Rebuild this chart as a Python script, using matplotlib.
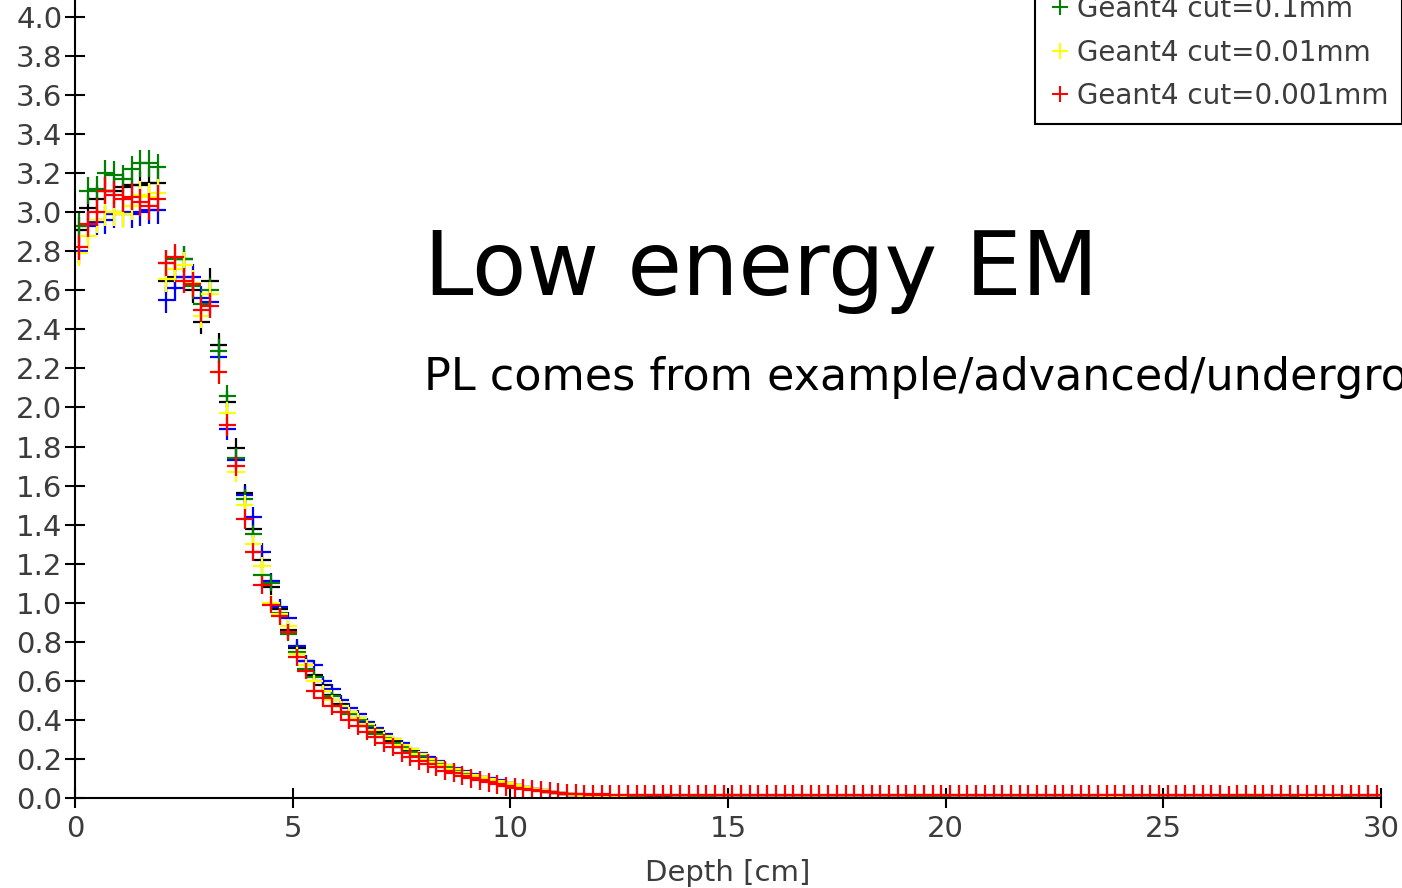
import numpy as np
import matplotlib.pyplot as plt
from matplotlib.lines import Line2D

# depth-dose histograms, 0.2 cm bins from 0 to 30 cm
bin_width = 0.2

dose_black = [
    2.91, 3.02, 3.07, 3.11, 3.11, 3.13, 3.14, 3.14, 3.15, 3.15,
    2.65, 2.67, 2.76, 2.60, 2.44, 2.65,
    2.32, 2.03, 1.79, 1.56, 1.38, 1.22, 1.08, 0.97, 0.86,
    0.77, 0.70, 0.63, 0.58, 0.53, 0.48, 0.44, 0.41, 0.37, 0.34,
    0.32, 0.29, 0.26, 0.24, 0.22, 0.20, 0.18, 0.165, 0.15, 0.135,
    0.12, 0.105, 0.095, 0.085, 0.075, 0.065, 0.055, 0.047, 0.04, 0.033,
    0.027, 0.02, 0.015, 0.01, 0.008,
    0.006, 0.005, 0.005, 0.004, 0.004, 0.003, 0.003, 0.003, 0.002, 0.002, 0.002, 0.002, 0.002, 0.002, 0.002,
    0.002, 0.001, 0.001, 0.001, 0.001, 0.001, 0.001, 0.001, 0.001, 0.001, 0.001, 0.001, 0.001, 0.001, 0.001,
    0.001, 0.001, 0.001, 0.001, 0.001, 0.001, 0.001, 0.001, 0.001, 0.001, 0.001, 0.001, 0.001, 0.001, 0.001,
    0.001, 0.001, 0.001, 0.001, 0.001, 0.001, 0.001, 0.001, 0.001, 0.001, 0.001, 0.001, 0.001, 0.001, 0.001,
    0.001, 0.001, 0.001, 0.001, 0.001, 0.001, 0.001, 0.001, 0.001, 0.001, 0.001, 0.001, 0.001, 0.001, 0.001,
    0.001, 0.001, 0.001, 0.001, 0.001, 0.001, 0.001, 0.001, 0.001, 0.001, 0.001, 0.001, 0.001, 0.001, 0.001,
]

dose_blue = [
    2.80, 2.93, 2.95, 2.96, 2.99, 3.00, 2.99, 3.00, 3.01, 3.01,
    2.55, 2.61, 2.67, 2.67, 2.56, 2.54,
    2.26, 1.89, 1.73, 1.55, 1.44, 1.26, 1.11, 0.98, 0.92,
    0.78, 0.70, 0.68, 0.60, 0.56, 0.50, 0.46, 0.43, 0.39, 0.36,
    0.33, 0.30, 0.28, 0.25, 0.23, 0.21, 0.19, 0.17, 0.155, 0.14,
    0.125, 0.11, 0.10, 0.09, 0.075, 0.065, 0.055, 0.047, 0.04, 0.033,
    0.027, 0.02, 0.015, 0.01, 0.007,
    0.005, 0.004, 0.004, 0.003, 0.003, 0.002, 0.002, 0.002, 0.002, 0.001, 0.001, 0.001, 0.001, 0.001, 0.001,
    0.001, 0.001, 0.001, 0.001, 0.001, 0.001, 0.001, 0.001, 0.001, 0.001, 0.001, 0.001, 0.001, 0.001, 0.001,
    0.001, 0.001, 0.001, 0.001, 0.001, 0.001, 0.001, 0.001, 0.001, 0.001, 0.001, 0.001, 0.001, 0.001, 0.001,
    0.001, 0.001, 0.001, 0.001, 0.001, 0.001, 0.001, 0.001, 0.001, 0.001, 0.001, 0.001, 0.001, 0.001, 0.001,
    0.001, 0.001, 0.001, 0.001, 0.001, 0.001, 0.001, 0.001, 0.001, 0.001, 0.001, 0.001, 0.001, 0.001, 0.001,
    0.001, 0.001, 0.001, 0.001, 0.001, 0.001, 0.001, 0.001, 0.001, 0.001, 0.001, 0.001, 0.001, 0.001, 0.001,
]

dose_green = [
    2.93, 3.11, 3.12, 3.20, 3.19, 3.17, 3.22, 3.25, 3.25, 3.23,
    2.74, 2.76, 2.76, 2.62, 2.53, 2.60,
    2.29, 2.06, 1.74, 1.53, 1.35, 1.14, 1.10, 0.95, 0.84,
    0.75, 0.66, 0.62, 0.55, 0.52, 0.47, 0.43, 0.40, 0.37, 0.33,
    0.31, 0.28, 0.26, 0.235, 0.215, 0.195, 0.175, 0.16, 0.145, 0.13,
    0.115, 0.10, 0.09, 0.08, 0.07, 0.06, 0.05, 0.045, 0.038, 0.03,
    0.025, 0.02, 0.015, 0.012, 0.01,
    0.012, 0.012, 0.011, 0.012, 0.010, 0.0, 0.0, 0.0, 0.0, 0.0, 0.0, 0.012, 0.012, 0.0, 0.0,
    0.0, 0.0, 0.0, 0.0, 0.0, 0.0, 0.0, 0.0, 0.0, 0.0, 0.0, 0.0, 0.0, 0.0, 0.0,
    0.0, 0.0, 0.0, 0.0, 0.0, 0.0, 0.012, 0.012, 0.012, 0.012, 0.0, 0.0, 0.0, 0.0, 0.0,
    0.0, 0.0, 0.0, 0.0, 0.0, 0.0, 0.0, 0.0, 0.0, 0.0, 0.0, 0.0, 0.0, 0.0, 0.0,
    0.0, 0.0, 0.0, 0.0, 0.0, 0.0, 0.0, 0.0, 0.0, 0.0, 0.0, 0.0, 0.012, 0.012, 0.012,
    0.012, 0.0, 0.0, 0.0, 0.0, 0.012, 0.0, 0.0, 0.0, 0.0, 0.012, 0.0, 0.0, 0.0, 0.0,
]

dose_yellow = [
    2.79, 2.88, 2.96, 3.00, 3.00, 2.99, 3.03, 3.09, 3.08, 3.10,
    2.66, 2.71, 2.73, 2.64, 2.47, 2.58,
    2.18, 1.97, 1.67, 1.50, 1.30, 1.19, 1.00, 0.94, 0.88,
    0.74, 0.68, 0.60, 0.55, 0.50, 0.47, 0.44, 0.41, 0.38, 0.35,
    0.32, 0.30, 0.27, 0.25, 0.225, 0.20, 0.185, 0.17, 0.15, 0.135,
    0.12, 0.11, 0.095, 0.085, 0.075, 0.065, 0.055, 0.045, 0.04, 0.033,
    0.026, 0.02, 0.015, 0.012, 0.01,
    0.004, 0.003, 0.003, 0.002, 0.002, 0.002, 0.0, 0.0, 0.0, 0.0, 0.0, 0.0, 0.0, 0.0, 0.015,
    0.015, 0.015, 0.0, 0.0, 0.0, 0.0, 0.0, 0.0, 0.0, 0.0, 0.0, 0.0, 0.0, 0.0, 0.0,
    0.0, 0.0, 0.0, 0.015, 0.0, 0.0, 0.0, 0.0, 0.0, 0.0, 0.0, 0.0, 0.0, 0.0, 0.0,
    0.0, 0.0, 0.0, 0.0, 0.0, 0.0, 0.0, 0.0, 0.0, 0.0, 0.0, 0.0, 0.0, 0.012, 0.012,
    0.0, 0.0, 0.0, 0.0, 0.0, 0.0, 0.0, 0.0, 0.0, 0.0, 0.0, 0.0, 0.0, 0.0, 0.015,
    0.015, 0.015, 0.0, 0.0, 0.0, 0.0, 0.012, 0.012, 0.012, 0.012, 0.0, 0.0, 0.0, 0.0, 0.0,
]

dose_red = [
    2.82, 2.94, 3.00, 3.11, 3.09, 3.07, 3.08, 3.05, 3.03, 3.07,
    2.74, 2.77, 2.65, 2.63, 2.50, 2.52,
    2.18, 1.91, 1.70, 1.43, 1.26, 1.09, 0.99, 0.93, 0.85,
    0.72, 0.65, 0.55, 0.51, 0.47, 0.44, 0.40, 0.37, 0.34, 0.31,
    0.28, 0.26, 0.23, 0.21, 0.19, 0.175, 0.16, 0.14, 0.13, 0.115,
    0.10, 0.09, 0.08, 0.07, 0.06, 0.05, 0.045, 0.04, 0.035, 0.03,
    0.025, 0.022, 0.02, 0.018, 0.016,
    0.018, 0.017, 0.016, 0.016, 0.017, 0.015, 0.016, 0.016, 0.017, 0.016, 0.015, 0.016, 0.016, 0.017, 0.016,
    0.016, 0.015, 0.016, 0.017, 0.016, 0.016, 0.015, 0.016, 0.016, 0.017, 0.016, 0.016, 0.015, 0.016, 0.016,
    0.017, 0.016, 0.016, 0.015, 0.016, 0.016, 0.017, 0.016, 0.015, 0.016, 0.016, 0.016, 0.017, 0.016, 0.015,
    0.016, 0.016, 0.017, 0.016, 0.016, 0.015, 0.016, 0.016, 0.017, 0.016, 0.015, 0.016, 0.016, 0.016, 0.017,
    0.016, 0.015, 0.016, 0.016, 0.017, 0.016, 0.016, 0.015, 0.016, 0.016, 0.017, 0.016, 0.015, 0.016, 0.016,
    0.016, 0.017, 0.016, 0.015, 0.016, 0.016, 0.016, 0.017, 0.016, 0.015, 0.016, 0.016, 0.017, 0.016, 0.016,
]

# statistical errors (same size for the first four runs, larger for the 0.001mm run)
err_common = [
    0.065, 0.068, 0.068, 0.07, 0.07, 0.07, 0.07, 0.07, 0.07, 0.07,
    0.066, 0.066, 0.066, 0.065, 0.064, 0.064,
    0.06, 0.057, 0.053, 0.05, 0.048, 0.044, 0.041, 0.038, 0.035,
    0.032, 0.03, 0.028, 0.027, 0.026, 0.025, 0.024, 0.023, 0.022, 0.021,
    0.02, 0.019, 0.018, 0.018, 0.017, 0.016, 0.016, 0.015, 0.015, 0.014,
    0.014, 0.013, 0.013, 0.012, 0.012, 0.011, 0.011, 0.01, 0.01, 0.01,
    0.009, 0.009, 0.008, 0.008, 0.008,
    0.008, 0.008, 0.008, 0.008, 0.008, 0.006, 0.006, 0.006, 0.006, 0.006, 0.006, 0.008, 0.008, 0.006, 0.008,
    0.008, 0.008, 0.006, 0.006, 0.006, 0.006, 0.006, 0.006, 0.006, 0.006, 0.006, 0.006, 0.006, 0.006, 0.006,
    0.006, 0.006, 0.006, 0.008, 0.006, 0.006, 0.008, 0.008, 0.008, 0.008, 0.006, 0.006, 0.006, 0.006, 0.006,
    0.006, 0.006, 0.006, 0.006, 0.006, 0.006, 0.006, 0.006, 0.006, 0.006, 0.006, 0.006, 0.006, 0.008, 0.008,
    0.006, 0.006, 0.006, 0.006, 0.006, 0.006, 0.006, 0.006, 0.006, 0.006, 0.006, 0.006, 0.008, 0.008, 0.008,
    0.008, 0.008, 0.006, 0.006, 0.006, 0.008, 0.008, 0.008, 0.008, 0.008, 0.008, 0.006, 0.006, 0.006, 0.006,
]

err_red = [
    0.065, 0.068, 0.068, 0.07, 0.07, 0.07, 0.07, 0.07, 0.07, 0.07,
    0.066, 0.066, 0.066, 0.065, 0.064, 0.064,
    0.06, 0.057, 0.053, 0.05, 0.048, 0.045, 0.044, 0.043, 0.042,
    0.042, 0.042, 0.043, 0.043, 0.044, 0.044, 0.045, 0.045, 0.045, 0.046,
    0.046, 0.047, 0.047, 0.047, 0.048, 0.048, 0.048, 0.049, 0.049, 0.049,
    0.05, 0.05, 0.05, 0.05, 0.05, 0.05, 0.05, 0.05, 0.05, 0.05,
    0.05, 0.05, 0.05, 0.05, 0.05,
    0.05, 0.049, 0.05, 0.051, 0.05, 0.05, 0.049, 0.05, 0.05, 0.051, 0.05, 0.05, 0.049, 0.05, 0.05,
    0.05, 0.051, 0.05, 0.049, 0.05, 0.05, 0.05, 0.051, 0.05, 0.05, 0.049, 0.05, 0.05, 0.05, 0.051,
    0.05, 0.05, 0.049, 0.05, 0.05, 0.051, 0.05, 0.05, 0.05, 0.049, 0.05, 0.05, 0.051, 0.05, 0.05,
    0.049, 0.05, 0.05, 0.05, 0.051, 0.05, 0.05, 0.049, 0.05, 0.05, 0.05, 0.051, 0.05, 0.05, 0.049,
    0.05, 0.05, 0.051, 0.05, 0.05, 0.049, 0.05, 0.05, 0.05, 0.051, 0.05, 0.05, 0.049, 0.05, 0.05,
    0.05, 0.051, 0.05, 0.05, 0.049, 0.05, 0.05, 0.05, 0.051, 0.05, 0.05, 0.049, 0.05, 0.05, 0.05,
]

series = [
    (dose_black, err_common, 'black', None),
    (dose_blue, err_common, 'blue', None),
    (dose_green, err_common, 'green', 'Geant4 cut=0.1mm'),
    (dose_yellow, err_common, 'yellow', 'Geant4 cut=0.01mm'),
    (dose_red, err_red, 'red', 'Geant4 cut=0.001mm'),
]

y_ticks = [0.0, 0.2, 0.4, 0.6, 0.8, 1.0, 1.2, 1.4, 1.6, 1.8, 2.0,
           2.2, 2.4, 2.6, 2.8, 3.0, 3.2, 3.4, 3.6, 3.8, 4.0]
x_ticks = [0, 5, 10, 15, 20, 25, 30]

label_grey = '#3c3c3c'

fig = plt.figure(figsize=(14.02, 8.88), dpi=100)
ax = fig.add_axes([75 / 1402, 90 / 888, 1306 / 1402, 798 / 888])

for dose, err, color, label in series:
    depth = np.arange(len(dose)) * bin_width + bin_width / 2
    ax.errorbar(depth, dose, xerr=bin_width, yerr=err, fmt='none',
                ecolor=color, elinewidth=1.6, capsize=0)

ax.set_xlim(0, 30)
ax.set_ylim(0, 4.087)
ax.set_xticks(x_ticks)
ax.set_yticks(y_ticks)
ax.set_yticklabels([f'{t:.1f}' for t in y_ticks])
ax.spines['top'].set_visible(False)
ax.spines['right'].set_visible(False)
for side in ['left', 'bottom']:
    ax.spines[side].set_linewidth(1.5)
ax.tick_params(direction='inout', length=14, width=1.5, labelsize=21,
               labelcolor=label_grey)
ax.tick_params(axis='y', pad=2)
ax.tick_params(axis='x', pad=5)
ax.set_xlabel('Depth [cm]', fontsize=21, color=label_grey, labelpad=12)

# overlay text, cut at the right edge as in the original slide
fig.text(424 / 1402, 1 - 295 / 888, 'Low energy EM', fontsize=64,
         ha='left', va='baseline')
fig.text(424 / 1402, 1 - 390 / 888,
         'PL comes from example/advanced/underground_physics', fontsize=32,
         ha='left', va='baseline')

handles = [Line2D([], [], color=c, marker='+', linestyle='none',
                  markersize=12, markeredgewidth=1.5)
           for _, _, c, lab in series if lab]
labels = [lab for _, _, _, lab in series if lab]
leg = fig.legend(handles, labels, loc='lower left',
                 bbox_to_anchor=(1035 / 1402, 1 - 124 / 888),
                 fontsize=20, labelcolor=label_grey, frameon=True,
                 fancybox=False, framealpha=1, edgecolor='black',
                 borderaxespad=0, borderpad=0.5, handlelength=0.8,
                 handletextpad=0.2, labelspacing=0.56)
leg.get_frame().set_linewidth(1.5)

fig.savefig('out.png', dpi=100)
